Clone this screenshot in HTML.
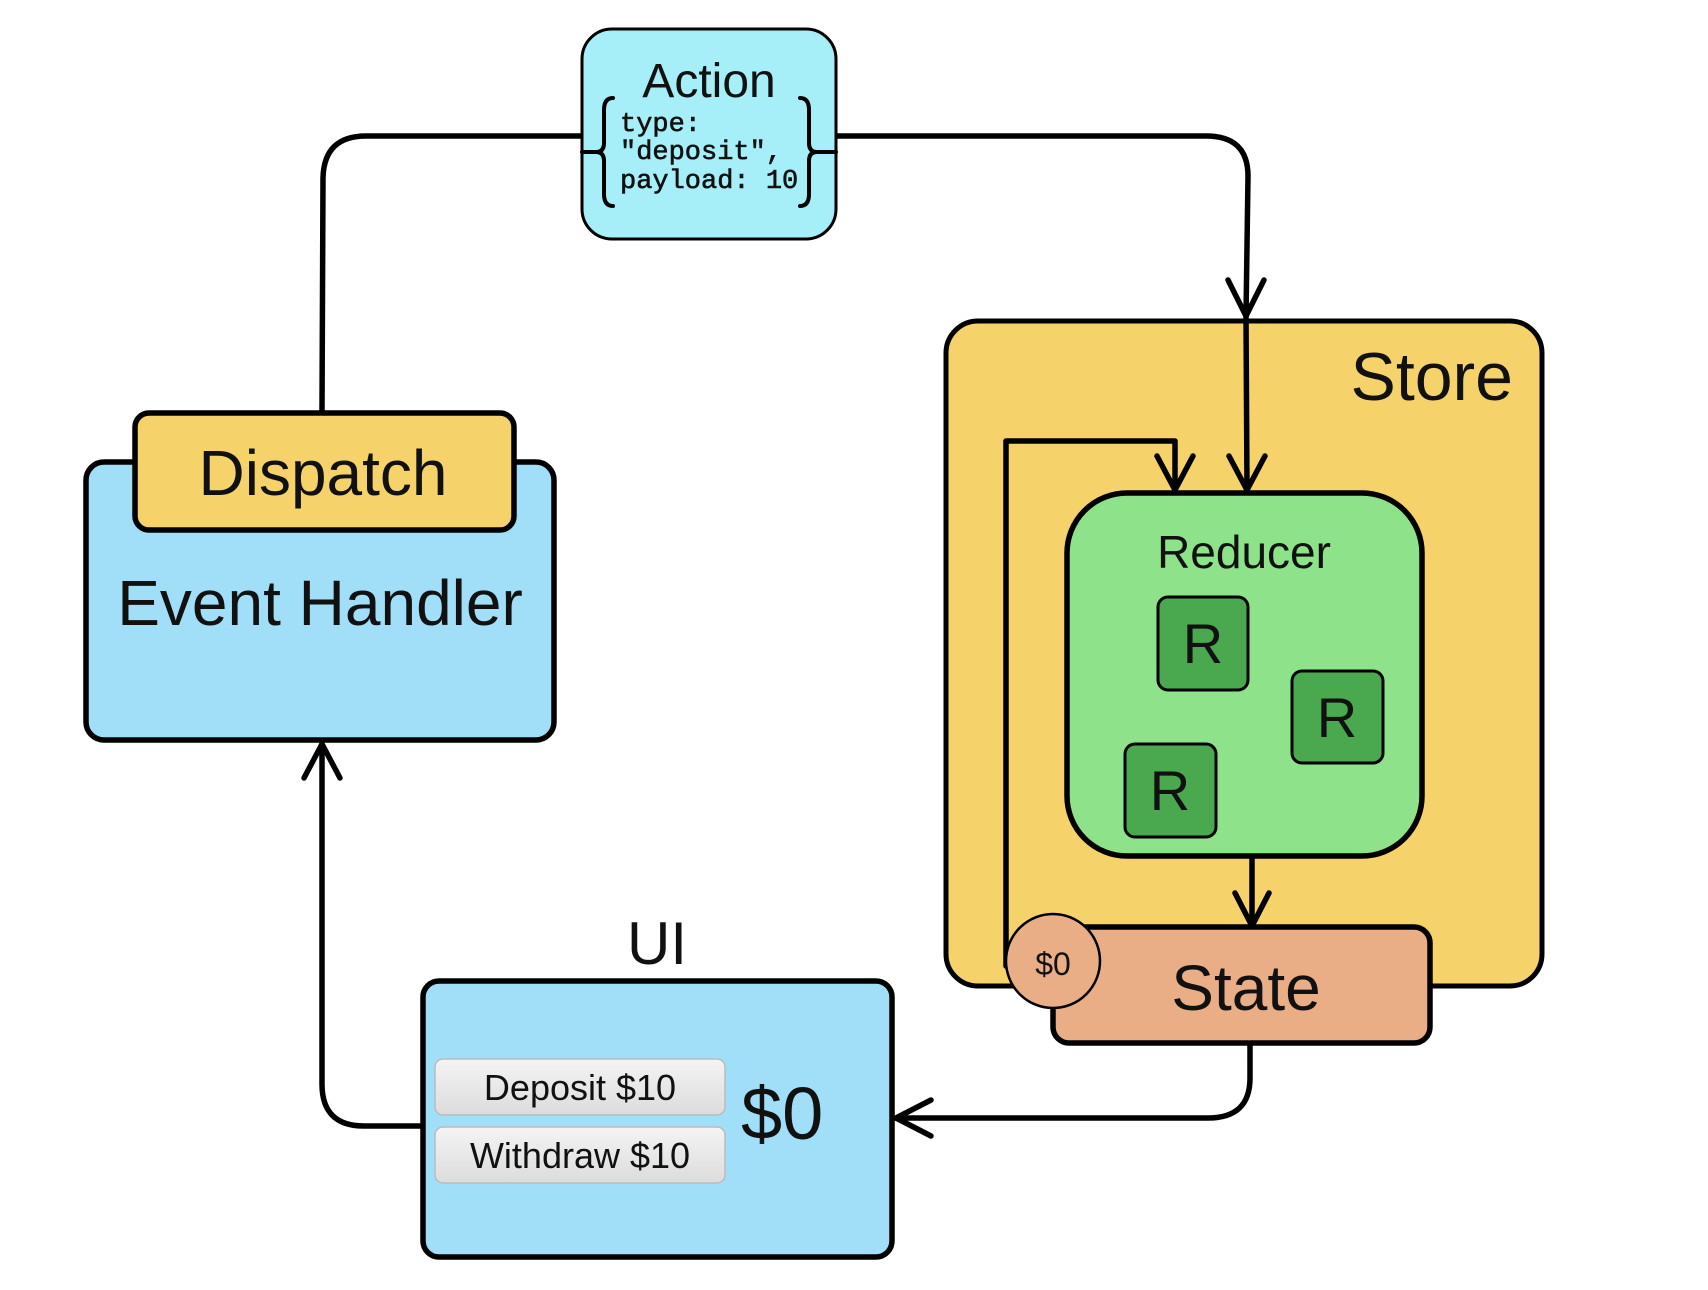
<!DOCTYPE html>
<html><head><meta charset="utf-8"><style>
html,body{margin:0;padding:0;background:#fff;}
svg{display:block;}
text{font-family:"Liberation Sans",sans-serif;fill:#111;}
</style></head><body>
<svg width="1708" height="1290" viewBox="0 0 1708 1290" xmlns="http://www.w3.org/2000/svg">
<g transform="translate(-4,-2)">
<g fill="none" stroke="#000" stroke-width="5.5" stroke-linecap="round" stroke-linejoin="round">
 <path d="M326 412 L327 180 Q328 138 370 138 L586 138"/>
 <path d="M840 138 L1210 138 Q1252 138 1252 178 L1250 318"/>
 <path d="M1232 282 L1250 318 L1268 282"/>
</g>
<rect x="950" y="323" width="596" height="665" rx="32" fill="#f5d36a" stroke="#000" stroke-width="5"/>
<text x="1517" y="402" font-size="68" text-anchor="end">Store</text>
<g fill="none" stroke="#000" stroke-width="5.5" stroke-linecap="round" stroke-linejoin="round">
 <path d="M1250 318 L1251 492"/>
 <path d="M1233 458 L1251 492 L1269 458"/>
 <path d="M1010 968 L1010 443 L1179 443 L1179 492"/>
 <path d="M1161 458 L1179 492 L1197 458"/>
</g>
<rect x="1071" y="495" width="355" height="363" rx="60" fill="#8ee38a" stroke="#000" stroke-width="5.5"/>
<text x="1248" y="570" font-size="46" text-anchor="middle">Reducer</text>
<g fill="#4aa84f" stroke="#000" stroke-width="3">
 <rect x="1162" y="599" width="90" height="93" rx="10"/>
 <rect x="1296" y="673" width="91" height="92" rx="10"/>
 <rect x="1129" y="746" width="91" height="93" rx="10"/>
</g>
<g font-size="56" text-anchor="middle">
 <text x="1207" y="665">R</text>
 <text x="1341" y="739">R</text>
 <text x="1174" y="812">R</text>
</g>
<g fill="none" stroke="#000" stroke-width="5.5" stroke-linecap="round" stroke-linejoin="round">
 <path d="M1256 860 L1256 928"/>
 <path d="M1239 895 L1256 928 L1273 895"/>
</g>
<rect x="1057" y="929" width="377" height="116" rx="16" fill="#eaae87" stroke="#000" stroke-width="5.5"/>
<text x="1250" y="1012" font-size="64" text-anchor="middle">State</text>
<circle cx="1057" cy="963" r="47" fill="#eaae87" stroke="#000" stroke-width="2.5"/>
<text x="1057" y="977" font-size="32" text-anchor="middle">$0</text>
<g fill="none" stroke="#000" stroke-width="5.5" stroke-linecap="round" stroke-linejoin="round">
 <path d="M1254 1046 L1254 1080 Q1254 1120 1212 1120 L900 1120"/>
 <path d="M935 1102 L900 1120 L935 1138"/>
 <path d="M427 1128 L368 1128 Q326 1128 326 1086 L326 746"/>
 <path d="M308 780 L326 746 L344 780"/>
</g>
<text x="661" y="966" font-size="60" text-anchor="middle">UI</text>
<rect x="427" y="983" width="469" height="276" rx="16" fill="#a0dff7" stroke="#000" stroke-width="5.5"/>
<defs><linearGradient id="bg" x1="0" y1="0" x2="0" y2="1"><stop offset="0" stop-color="#f4f4f4"/><stop offset="1" stop-color="#dcdcdc"/></linearGradient></defs>
<rect x="439" y="1061" width="290" height="56" rx="8" fill="url(#bg)" stroke="#bbb" stroke-width="1.5"/>
<rect x="439" y="1129" width="290" height="56" rx="8" fill="url(#bg)" stroke="#bbb" stroke-width="1.5"/>
<text x="584" y="1102" font-size="36" text-anchor="middle">Deposit $10</text>
<text x="584" y="1170" font-size="36" text-anchor="middle">Withdraw $10</text>
<text x="745" y="1141" font-size="74">$0</text>
<rect x="90" y="464" width="468" height="278" rx="18" fill="#a0dff7" stroke="#000" stroke-width="5.5"/>
<rect x="139" y="415" width="379" height="117" rx="14" fill="#f5d36a" stroke="#000" stroke-width="5.5"/>
<text x="327" y="497" font-size="64" text-anchor="middle">Dispatch</text>
<text x="324" y="627" font-size="64" text-anchor="middle">Event Handler</text>
<rect x="586" y="31" width="254" height="210" rx="30" fill="#a6eef8" stroke="#000" stroke-width="3"/>
<text x="713" y="99" font-size="48" text-anchor="middle">Action</text>
<g font-size="27" stroke="#111" stroke-width="0.6">
 <text x="624" y="133" style="font-family:'Liberation Mono',monospace">type:</text>
 <text x="624" y="161" style="font-family:'Liberation Mono',monospace">"deposit",</text>
 <text x="624" y="190" style="font-family:'Liberation Mono',monospace">payload: 10</text>
</g>
<g fill="none" stroke="#000" stroke-width="4" stroke-linecap="round">
 <path d="M617 100 Q608 100 608 112 L608 145 Q608 154 600 154 Q608 154 608 163 L608 196 Q608 208 617 208"/>
 <path d="M586 154 L600 154"/>
 <path d="M804 100 Q813 100 813 112 L813 145 Q813 154 821 154 Q813 154 813 163 L813 196 Q813 208 804 208"/>
 <path d="M821 154 L840 154"/>
</g>
</g>
</svg>
</body></html>
